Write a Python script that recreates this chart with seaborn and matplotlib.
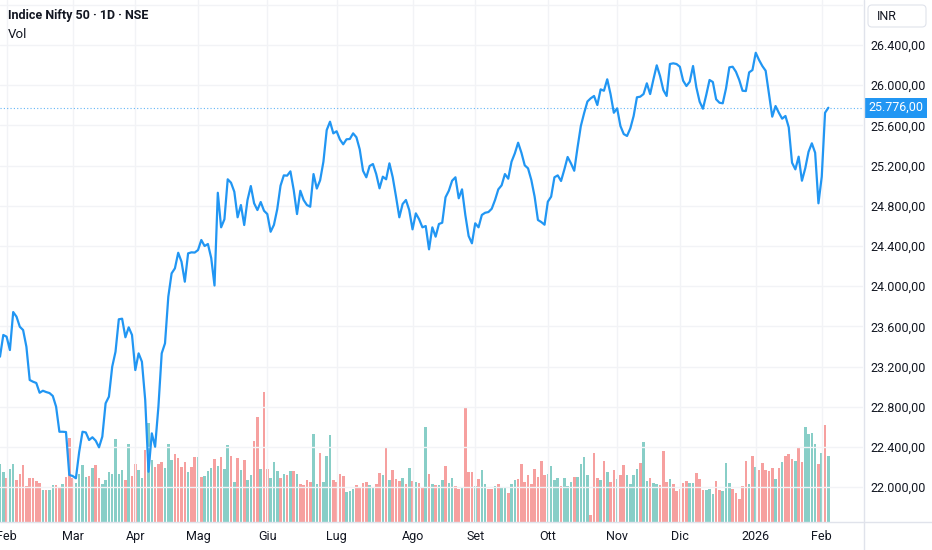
"""
Nifty 50 daily close with volume, TradingView-style chart
"""
import seaborn as sns
import matplotlib.pyplot as plt
import matplotlib.transforms as mtransforms
from matplotlib.patches import FancyBboxPatch
from matplotlib.lines import Line2D
import numpy as np

# daily closes, 30 Jan 2025 .. 4 Feb 2026
close = [
    23299, 23515, 23498, 23365, 23743, 23697, 23597, 23564, 23398, 23067,
    23050, 23037, 22940, 22960, 22947, 22937, 22908, 22801, 22552, 22552,
    22549, 22122, 22112, 22089, 22353, 22552, 22545, 22470, 22497, 22463,
    22397, 22503, 22835, 22901, 23199, 23348, 23671, 23677, 23492, 23591,
    23515, 23166, 23332, 23249, 22868, 22154, 22536, 22403, 22801, 23332,
    23432, 23896, 24128, 24178, 24333, 24244, 24045, 24327, 24337, 24335,
    24360, 24460, 24400, 24420, 24281, 24007, 24930, 24586, 24666, 25064,
    25030, 24940, 24686, 24808, 24609, 24858, 24997, 24825, 24758, 24838,
    24751, 24718, 24542, 24610, 24765, 25000, 25103, 25100, 25143, 24957,
    24718, 24950, 24858, 24808, 24791, 25116, 24972, 25054, 25239, 25554,
    25637, 25521, 25542, 25460, 25412, 25462, 25465, 25521, 25482, 25362,
    25149, 25084, 25196, 25216, 25116, 24974, 25090, 25064, 25223, 25084,
    24891, 24686, 24818, 24858, 24758, 24566, 24725, 24666, 24586, 24599,
    24367, 24586, 24493, 24619, 24632, 24885, 24950, 25050, 25084, 24875,
    24964, 24709, 24500, 24427, 24626, 24586, 24709, 24731, 24738, 24771,
    24858, 24964, 25004, 25116, 25070, 25239, 25322, 25428, 25328, 25203,
    25173, 25057, 24891, 24659, 24639, 24612, 24841, 24891, 25084, 25103,
    25047, 25161, 25286, 25223, 25149, 25380, 25594, 25723, 25838, 25870,
    25893, 25803, 25959, 25945, 26059, 25912, 25726, 25770, 25594, 25514,
    25495, 25571, 25694, 25880, 25886, 25912, 26019, 25912, 26059, 26198,
    26092, 25952, 25893, 26211, 26218, 26211, 26184, 26045, 25992, 26035,
    26191, 25979, 25836, 25766, 25903, 26052, 26032, 25860, 25826, 25820,
    25969, 26178, 26184, 26134, 26052, 25945, 25942, 26128, 26151, 26323,
    26251, 26191, 26144, 25919, 25687, 25793, 25726, 25667, 25694, 25581,
    25229, 25163, 25289, 25050, 25173, 25338, 25422, 25328, 24825, 25090,
    25726, 25776,
]

# relative volume per session (bar heights)
volume = [
    58, 50, 44, 53, 58, 42, 48, 57, 36, 44,
    44, 41, 39, 32, 32, 32, 37, 37, 34, 38,
    45, 84, 44, 39, 48, 57, 45, 46, 54, 57,
    44, 38, 42, 50, 48, 83, 48, 52, 42, 78,
    46, 58, 52, 44, 72, 99, 62, 55, 58, 60,
    54, 78, 62, 68, 64, 55, 60, 50, 55, 65,
    65, 45, 46, 51, 54, 63, 56, 65, 53, 77,
    66, 40, 64, 52, 62, 42, 47, 81, 105, 53,
    130, 53, 44, 60, 51, 44, 48, 47, 51, 51,
    48, 38, 37, 42, 40, 88, 38, 69, 40, 66,
    87, 42, 40, 48, 46, 30, 31, 33, 37, 34,
    39, 40, 37, 35, 38, 49, 47, 75, 42, 52,
    43, 41, 44, 38, 54, 41, 40, 39, 35, 95,
    48, 38, 37, 37, 42, 56, 39, 44, 36, 33,
    35, 115, 50, 50, 36, 43, 52, 38, 33, 33,
    36, 38, 35, 35, 29, 38, 42, 43, 58, 40,
    47, 38, 53, 45, 61, 47, 48, 56, 42, 44,
    36, 44, 36, 40, 45, 45, 58, 65, 47, 7,
    69, 44, 42, 61, 50, 40, 52, 43, 47, 57,
    47, 38, 47, 53, 59, 80, 41, 44, 39, 38,
    37, 71, 40, 43, 38, 31, 33, 39, 41, 39,
    39, 49, 43, 32, 32, 33, 28, 41, 32, 31,
    59, 39, 33, 29, 23, 36, 61, 38, 66, 55,
    52, 59, 52, 51, 54, 43, 54, 60, 66, 68,
    63, 61, 75, 60, 95, 88, 89, 78, 58, 69,
    97, 66,
]

# u = up candle (teal volume), d = down candle (red volume)
direction = list(
    "uuduuddddd" "ddduduuddu" "ddduuuudud" "duuuuuuudu" "dduuduuddd"
    "uuuddddudd" "uduuududuu" "dududuuddu" "dduuududud" "udddduuduu"
    "udddduuudd" "dduuddudud" "ddudududdu" "duduuduudd" "uddduduudd"
    "uduuduuddd" "dddddduuuu" "duuuduuuud" "ddududdudd" "uuuuduuduu"
    "dddudddddu" "uddduuuddu" "uudddddudu" "dddddududd" "dudduuuudu"
    "du"
)

month_pos = [2, 22, 41, 60, 81, 102, 125, 144, 166, 187, 206, 229, 249]
month_labels = ["Feb", "Mar", "Apr", "Mag", "Giu", "Lug", "Ago", "Set",
                "Ott", "Nov", "Dic", "2026", "Feb"]
price_ticks = list(range(22000, 26801, 400))

sns.set_style("white")
plt.rcParams["font.family"] = ["Roboto", "DejaVu Sans"]

TEXT = "#131722"
BLUE = "#2196f3"
GRID = "#f2f3f6"
BORDER = "#e0e3eb"


def it_fmt(v):
    return f"{v:,.2f}".replace(",", "X").replace(".", ",").replace("X", ".")


bars = np.arange(len(close))

fig = plt.figure(figsize=(9.32, 5.5), dpi=100)
ax = fig.add_axes([0, 28 / 550, 863 / 932, 522 / 550])
axv = ax.twinx()
ax.set_zorder(axv.get_zorder() + 1)
ax.patch.set_visible(False)

# volume
sns.barplot(x=bars, y=volume, hue=direction, palette={"u": "#26a69a", "d": "#ef5350"},
            native_scale=True, dodge=False, width=0.78, saturation=1, alpha=0.55,
            linewidth=0, errorbar=None, legend=False, ax=axv)
axv.set_ylim(0, max(volume) * 522 / 130)
axv.set_yticks([])
axv.set_ylabel("")

# price line
sns.lineplot(x=bars, y=close, color=BLUE, linewidth=1.6, ax=ax)
ax.axhline(close[-1], color=BLUE, lw=0.8, ls=(0, (1, 2)), alpha=0.7)

ax.set_ylim(21654, 26848)
ax.set_xlim(0, 261.5)
ax.yaxis.tick_right()
ax.set_yticks(price_ticks)
ax.set_yticklabels([it_fmt(v) if v <= 26400 else "" for v in price_ticks])
ax.set_xticks(month_pos)
ax.set_xticklabels(month_labels)
ax.tick_params(axis="y", length=0, pad=5, labelsize=9, labelcolor=TEXT)
ax.tick_params(axis="x", length=0, pad=5.5, labelsize=9, labelcolor=TEXT)
ax.set_xlabel("")
ax.set_ylabel("")
ax.grid(True, color=GRID, lw=1)
for a in (ax, axv):
    for s in a.spines.values():
        s.set_visible(False)

# last price tag
tr = mtransforms.blended_transform_factory(ax.transAxes, ax.transData)
ax.text(868 / 863, close[-1], it_fmt(close[-1]), transform=tr, ha="left", va="center",
        fontsize=9, color="white",
        bbox=dict(boxstyle="square,pad=0.28", fc=BLUE, ec="none"))

# pane borders
fig.add_artist(Line2D([863.5 / 932, 863.5 / 932], [0, 1], color=BORDER, lw=1,
                      transform=fig.transFigure))
fig.add_artist(Line2D([0, 1], [28 / 550, 28 / 550], color=BORDER, lw=1,
                      transform=fig.transFigure))

# currency box
fig.add_artist(FancyBboxPatch((8.68, 5.23), 0.58, 0.22,
                              boxstyle="round,pad=0,rounding_size=0.04",
                              fc="white", ec=BORDER, lw=0.8,
                              transform=fig.dpi_scale_trans))
fig.text(877 / 932, 1 - 16 / 550, "INR", fontsize=9, color=TEXT, va="center", ha="left")

# legend texts
fig.text(8 / 932, 1 - 16 / 550, "Indice Nifty 50 · 1D · NSE", fontsize=9,
         fontweight="bold", color=TEXT, va="center", ha="left")
fig.text(8 / 932, 1 - 34 / 550, "Vol", fontsize=9.5, color=TEXT, va="center", ha="left")

fig.savefig("out.png", dpi=100)
